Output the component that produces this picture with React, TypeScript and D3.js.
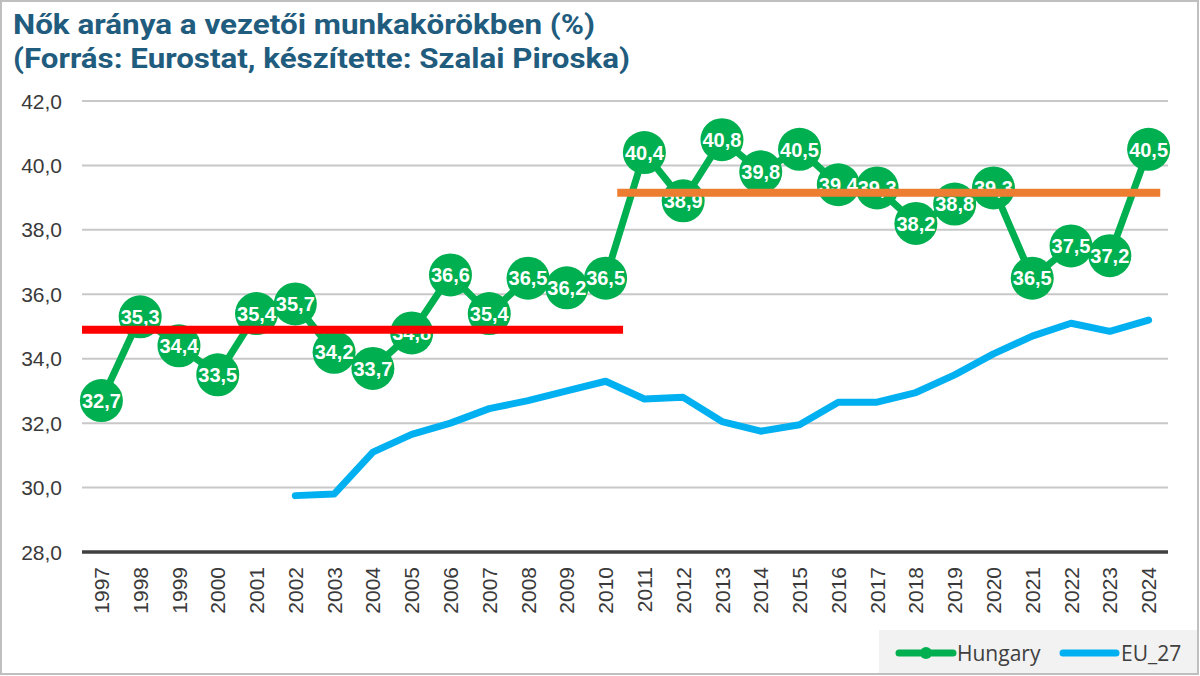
import * as d3 from "d3";

// --- data ---
const years = [
  1997, 1998, 1999, 2000, 2001, 2002, 2003, 2004, 2005, 2006, 2007, 2008, 2009, 2010,
  2011, 2012, 2013, 2014, 2015, 2016, 2017, 2018, 2019, 2020, 2021, 2022, 2023, 2024,
];
const hungary = [
  32.7, 35.3, 34.4, 33.5, 35.4, 35.7, 34.2, 33.7, 34.8, 36.6, 35.4, 36.5, 36.2, 36.5,
  40.4, 38.9, 40.8, 39.8, 40.5, 39.4, 39.3, 38.2, 38.8, 39.3, 36.5, 37.5, 37.2, 40.5,
];
const euYears = [
  2002, 2003, 2004, 2005, 2006, 2007, 2008, 2009, 2010, 2011, 2012, 2013,
  2014, 2015, 2016, 2017, 2018, 2019, 2020, 2021, 2022, 2023, 2024,
];
const eu27 = [
  29.75, 29.8, 31.1, 31.65, 32.0, 32.45, 32.7, 33.0, 33.3, 32.75, 32.8, 32.05,
  31.75, 31.95, 32.65, 32.65, 32.95, 33.5, 34.15, 34.7, 35.1, 34.85, 35.2,
];
// period averages drawn as flat bars: [fromYear, toYear, value]
const avgBefore = [1996.5, 2010.45, 34.9];
const avgAfter = [2010.3, 2024.3, 39.15];
const yTicks = [28, 30, 32, 34, 36, 38, 40, 42];
const titleLines = [
  "Nők aránya a vezetői munkakörökben (%)",
  "(Forrás: Eurostat, készítette: Szalai Piroska)",
];
const legendItems = ["Hungary", "EU_27"];

const W = 1200;
const H = 676;
const GREEN = "#00B050";
const BLUE = "#00B0F0";
const fmt = (v: number) => v.toFixed(1).replace(".", ",");

export default function App() {
  const x = d3.scaleLinear().domain([1996.5, 2024.5]).range([82, 1168]);
  const y = d3.scaleLinear().domain([28, 42]).range([552, 101]);

  const huLine = d3
    .line<number>()
    .x((_, i) => x(years[i]))
    .y((d) => y(d));
  const euLine = d3
    .line<number>()
    .x((_, i) => x(euYears[i]))
    .y((d) => y(d));

  const tickFont = "'Liberation Sans', Arial, sans-serif";

  return (
    <svg
      width={W}
      height={H}
      style={{ position: "absolute", left: 0, top: 0, background: "#fff" }}
    >
      <rect x={0} y={0} width={W} height={H} fill="#fff" />

      {/* title */}
      {titleLines.map((t, i) => (
        <text
          key={t}
          x={13}
          y={34 + i * 34}
          fill="#1F5C7E"
          fontFamily="Roboto, sans-serif"
          fontWeight={700}
          fontSize={27.5}
          textLength={i === 0 ? 582 : 617}
          lengthAdjust="spacingAndGlyphs"
        >
          {t}
        </text>
      ))}

      {/* grid + y labels */}
      {yTicks.map((t) => (
        <g key={t}>
          {t !== 28 && (
            <line
              x1={82}
              x2={1168}
              y1={y(t)}
              y2={y(t)}
              stroke="#C8C8C8"
              strokeWidth={2}
            />
          )}
          <text
            x={62}
            y={y(t)}
            dy="0.36em"
            textAnchor="end"
            fontFamily={tickFont}
            fontSize={21}
            fill="#3A3A3A"
          >
            {fmt(t)}
          </text>
        </g>
      ))}
      <line x1={82} x2={1168} y1={y(28)} y2={y(28)} stroke="#404040" strokeWidth={3.5} />

      {/* x labels */}
      {years.map((yr) => (
        <text
          key={yr}
          transform={`translate(${x(yr)},567) rotate(-90)`}
          dy="0.36em"
          textAnchor="end"
          fontFamily={tickFont}
          fontSize={21}
          fill="#3A3A3A"
        >
          {yr}
        </text>
      ))}

      {/* Hungary series */}
      <path
        d={huLine(hungary) ?? ""}
        fill="none"
        stroke={GREEN}
        strokeWidth={7}
        strokeLinejoin="round"
      />
      {hungary.map((v, i) => (
        <circle key={i} cx={x(years[i])} cy={y(v)} r={21.5} fill={GREEN} />
      ))}
      {hungary.map((v, i) => (
        <text
          key={i}
          x={x(years[i])}
          y={y(v)}
          dy="0.36em"
          textAnchor="middle"
          fontFamily={tickFont}
          fontWeight={700}
          fontSize={20}
          fill="#fff"
        >
          {fmt(v)}
        </text>
      ))}

      {/* EU_27 series */}
      <path
        d={euLine(eu27) ?? ""}
        fill="none"
        stroke={BLUE}
        strokeWidth={7}
        strokeLinejoin="round"
        strokeLinecap="round"
      />

      {/* period averages */}
      <line
        x1={x(avgBefore[0])}
        x2={x(avgBefore[1])}
        y1={y(avgBefore[2])}
        y2={y(avgBefore[2])}
        stroke="#FF0000"
        strokeWidth={8}
      />
      <line
        x1={x(avgAfter[0])}
        x2={x(avgAfter[1])}
        y1={y(avgAfter[2])}
        y2={y(avgAfter[2])}
        stroke="#ED7D31"
        strokeWidth={8}
      />

      {/* legend */}
      <rect x={879} y={630} width={318} height={44} fill="#F2F2F2" />
      <line x1={899} x2={953} y1={653} y2={653} stroke={GREEN} strokeWidth={7} strokeLinecap="round" />
      <circle cx={926} cy={653} r={6} fill={GREEN} />
      <text x={957} y={653} dy="0.36em" fontFamily="'Open Sans', sans-serif" fontSize={21} fill="#404040">
        {legendItems[0]}
      </text>
      <line x1={1063} x2={1116} y1={653} y2={653} stroke={BLUE} strokeWidth={7} strokeLinecap="round" />
      <text x={1121} y={653} dy="0.36em" fontFamily="'Open Sans', sans-serif" fontSize={21} fill="#404040">
        {legendItems[1]}
      </text>

      {/* outer border */}
      <rect x={1} y={1} width={W - 3} height={H - 3} fill="none" stroke="#BFBFBF" strokeWidth={2} />
    </svg>
  );
}
